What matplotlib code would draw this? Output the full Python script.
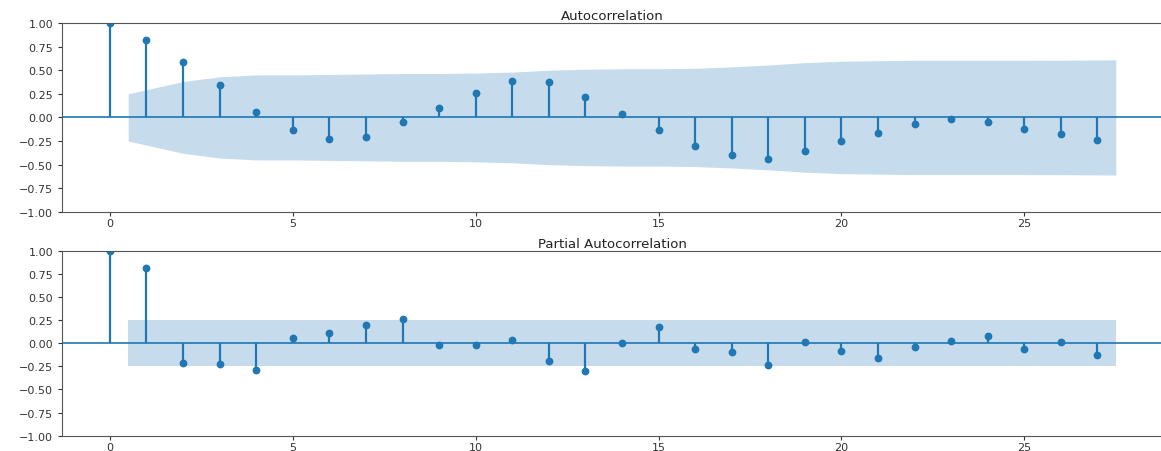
import numpy as np
import matplotlib
matplotlib.use("Agg")
import matplotlib.pyplot as plt

lags = list(range(28))

acf_values = [1.00, 0.82, 0.59, 0.34, 0.06, -0.13, -0.23, -0.21, -0.05, 0.105,
              0.26, 0.39, 0.37, 0.22, 0.04, -0.13, -0.30, -0.40, -0.44, -0.36,
              -0.25, -0.17, -0.07, -0.02, -0.05, -0.12, -0.18, -0.24]

# half-width of the ACF confidence band for lags 1..27
acf_band = [0.25, 0.38, 0.43, 0.45, 0.45, 0.455, 0.46, 0.465, 0.465, 0.47,
            0.48, 0.50, 0.51, 0.515, 0.515, 0.52, 0.535, 0.555, 0.58, 0.595,
            0.60, 0.605, 0.605, 0.605, 0.605, 0.606, 0.61]

pacf_values = [1.00, 0.817, -0.218, -0.23, -0.29, 0.056, 0.113, 0.20, 0.257, -0.02,
               -0.02, 0.04, -0.197, -0.306, 0.0, 0.176, -0.06, -0.095, -0.236, 0.018,
               -0.08, -0.165, -0.046, 0.02, 0.077, -0.06, 0.01, -0.13]

# half-width of the PACF confidence band for lags 1..27
pacf_band = [0.25] * 27

titles = ["Autocorrelation", "Partial Autocorrelation"]
color = "#1f77b4"

fig = plt.figure(figsize=(11.61, 4.52), dpi=100)
ax1 = fig.add_axes([0.0534, 0.529, 0.9486, 0.418])
ax2 = fig.add_axes([0.0534, 0.034, 0.9486, 0.409])


def draw(ax, vals, band, title):
    x = np.array(lags, dtype=float)
    v = np.array(vals)
    ax.plot(x, v, marker="o", markersize=4.6, linestyle="None", color=color)
    ax.vlines(x, 0, v, color=color, lw=1.6)
    ax.axhline(0, color=color, lw=1.2)
    bx = x[1:].copy()
    bx[0] -= 0.5
    bx[-1] += 0.5
    b = np.array(band)
    ax.fill_between(bx, -b, b, color=color, alpha=0.25, lw=0)
    ax.set_xlim(-1.31, 28.8)
    ax.set_ylim(-1.0, 1.0)
    ax.set_yticks([-1.0, -0.75, -0.5, -0.25, 0.0, 0.25, 0.5, 0.75, 1.0])
    ax.set_yticklabels([f"{t:.2f}".replace("-", "\u2212") for t in ax.get_yticks()])
    ax.set_xticks([0, 5, 10, 15, 20, 25])
    ax.tick_params(labelsize=8, colors="#333333", length=3)
    ax.tick_params(axis="x", pad=1.5)
    for s in ax.spines.values():
        s.set_color("#555555")
    ax.set_title(title, fontsize=9.5, color="#222222", pad=3)


draw(ax1, acf_values, acf_band, titles[0])
draw(ax2, pacf_values, pacf_band, titles[1])

fig.savefig("out.png", dpi=100)
